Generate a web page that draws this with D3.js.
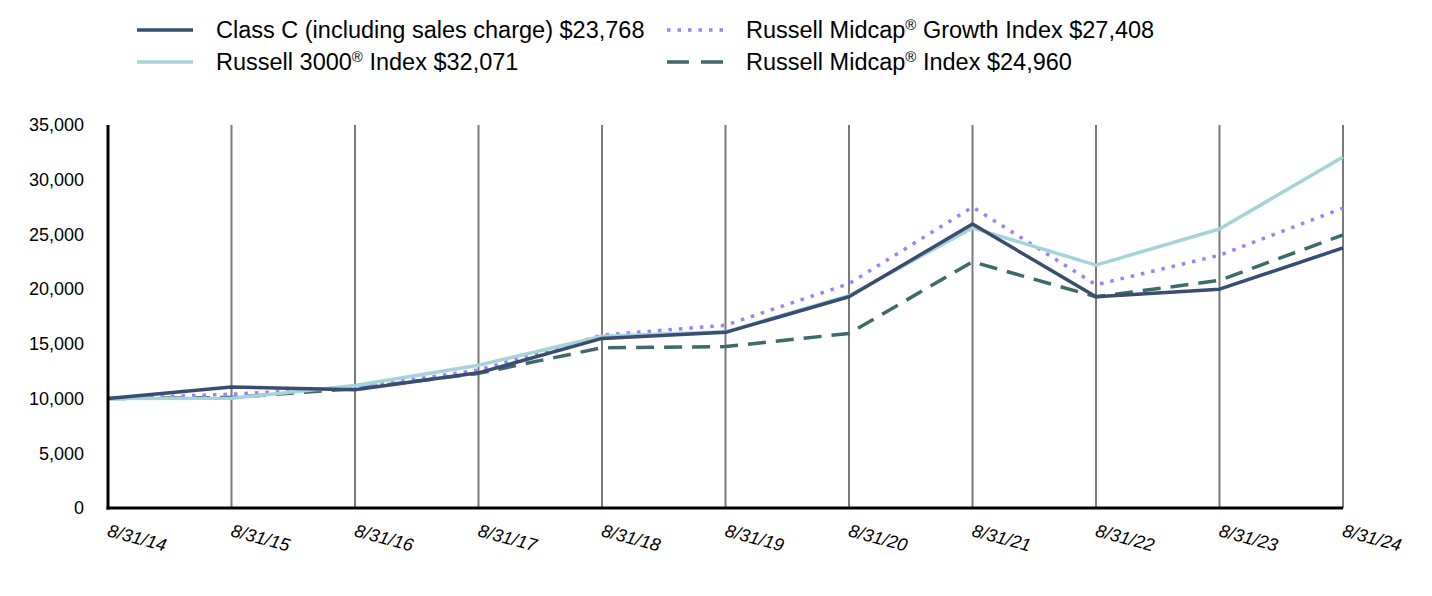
<!DOCTYPE html>
<html><head><meta charset="utf-8">
<script src="https://cdn.jsdelivr.net/npm/d3@7"></script>
<style>body{margin:0;background:#fff;font-family:Arial,"Liberation Sans",sans-serif;}</style>
</head><body><svg id="c" width="1432" height="596"></svg>
<script>
const dates = ["8/31/14","8/31/15","8/31/16","8/31/17","8/31/18","8/31/19","8/31/20","8/31/21","8/31/22","8/31/23","8/31/24"];
const classC = [10000,11050,10800,12350,15500,16050,19300,25950,19300,20000,23768];
const russell3000 = [10000,10030,11200,13050,15700,16100,19400,25600,22200,25500,32071];
const midcapGrowth = [10000,10400,11000,12600,15800,16700,20500,27500,20400,23100,27408];
const midcap = [10000,10100,10900,12300,14650,14750,15950,22500,19300,20800,24960];
const yTicks = [0,5000,10000,15000,20000,25000,30000,35000];
const seriesNames = ["Class C (including sales charge) $23,768","Russell 3000® Index $32,071","Russell Midcap® Growth Index $27,408","Russell Midcap® Index $24,960"];

const series = [
  {name: seriesNames[0], values: classC, color: "#394d70", dash: null, w: 3.5},
  {name: seriesNames[1], values: russell3000, color: "#a6d3d7", dash: null, w: 3.5},
  {name: seriesNames[2], values: midcapGrowth, color: "#9b80ff", dash: "3.5,7", w: 3.5},
  {name: seriesNames[3], values: midcap, color: "#3e6b67", dash: "18,10", w: 3.5}
];
const drawOrder = [3,2,1,0];
const FONT = "Arial, 'Liberation Sans', sans-serif";

const svg = d3.select("#c");
const L = 108, R = 1343, T = 125, B = 508;
const x = d3.scalePoint().domain(dates).range([L, R]);
const y = d3.scaleLinear().domain([0, 35000]).range([B, T]);

// grid lines
svg.append("g").selectAll("line").data(dates.slice(1)).join("line")
  .attr("x1", d => x(d)).attr("x2", d => x(d)).attr("y1", T).attr("y2", B)
  .attr("stroke", "#7a7a7a").attr("stroke-width", 2);

// y axis labels
const yAxis = svg.append("g").attr("transform", `translate(${L},0)`)
  .call(d3.axisLeft(y).tickValues(yTicks).tickSize(0).tickPadding(24).tickFormat(d3.format(",")));
yAxis.select(".domain").remove();
yAxis.selectAll("text").attr("font-size", 18).attr("font-family", FONT).attr("fill", "#000");

// x axis labels
const xAxis = svg.append("g").attr("transform", `translate(0,${B})`)
  .call(d3.axisBottom(x).tickSize(0).tickPadding(0));
xAxis.select(".domain").remove();
xAxis.selectAll("text")
  .attr("font-size", 18).attr("font-style", "italic").attr("font-family", FONT).attr("fill", "#000")
  .attr("text-anchor", "start").attr("dy", 0).attr("y", 0)
  .attr("transform", "translate(-2,28) rotate(15)");

// lines
const line = d3.line().x((d, i) => x(dates[i])).y(d => y(d));
drawOrder.forEach(k => {
  const s = series[k];
  svg.append("path").datum(s.values).attr("d", line)
    .attr("fill", "none").attr("stroke", s.color).attr("stroke-width", s.w)
    .attr("stroke-dasharray", s.dash).attr("stroke-linejoin", "round");
});

// axes lines
svg.append("line").attr("x1", L).attr("x2", L).attr("y1", T).attr("y2", B + 1.5).attr("stroke", "#000").attr("stroke-width", 3);
svg.append("line").attr("x1", L - 1.5).attr("x2", R).attr("y1", B).attr("y2", B).attr("stroke", "#000").attr("stroke-width", 3);

// legend
const legPos = [[137, 30], [137, 62], [667, 30], [667, 62]];
series.forEach((s, i) => {
  const [lx, ly] = legPos[i];
  svg.append("line").attr("x1", lx).attr("x2", lx + 56).attr("y1", ly).attr("y2", ly)
    .attr("stroke", s.color).attr("stroke-width", 3.5).attr("stroke-dasharray", i === 3 ? "22,12" : s.dash);
  const t = svg.append("text").attr("x", lx + 79).attr("y", ly + 8).attr("font-size", 23.5)
    .attr("font-family", FONT).attr("fill", "#000");
  const parts = s.name.split("®");
  t.append("tspan").text(parts[0]);
  if (parts.length > 1) {
    t.append("tspan").text("®").attr("font-size", 15).attr("dy", -8);
    t.append("tspan").text(parts[1]).attr("dy", 8);
  }
});
</script></body></html>
